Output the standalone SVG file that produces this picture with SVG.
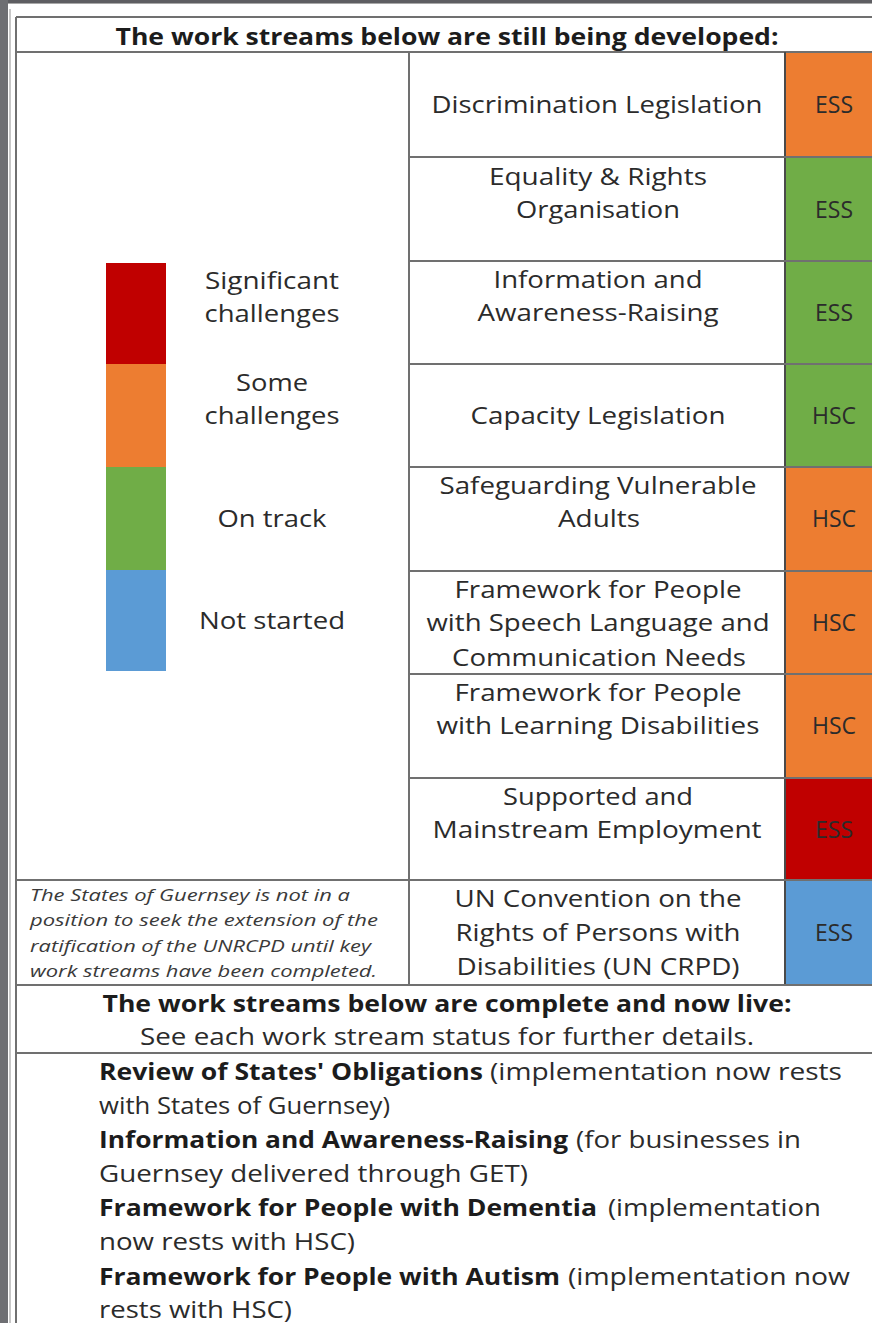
<svg xmlns="http://www.w3.org/2000/svg" width="872" height="1323" viewBox="0 0 872 1323">
<style>
  .t { font-family: "Open Sans", "Liberation Sans", sans-serif; font-size: 24px; fill: #2b2b2b; text-anchor: middle; }
  .hb { font-family: "Open Sans", "Liberation Sans", sans-serif; font-size: 24px; font-weight: bold; fill: #1c1c1c; text-anchor: middle; }
  .it { font-family: "Open Sans", "Liberation Sans", sans-serif; font-size: 16px; font-style: italic; fill: #3a3a3a; }
  .li { font-family: "Open Sans", "Liberation Sans", sans-serif; font-size: 24px; fill: #2b2b2b; }
  .lb { font-weight: bold; fill: #1c1c1c; }
  .grid { stroke: #707070; stroke-width: 2; fill: none; }
  .dark { stroke: #4a4a4a; stroke-width: 2; fill: none; }
  .st { font-family: "Open Sans", "Liberation Sans", sans-serif; font-size: 23px; fill: #2b2b2b; text-anchor: middle; }
</style>
<rect x="0" y="0" width="872" height="1323" fill="#ffffff"/>
<!-- page chrome -->
<rect x="0" y="0" width="872" height="3" fill="#5e5e62"/>
<rect x="0" y="3" width="872" height="1" fill="#a8a8a8"/>
<rect x="0" y="0" width="8" height="1323" fill="#6e6f73"/>
<rect x="9" y="9" width="2" height="1314" fill="#c8c8c8"/>

<!-- status colour cells -->
<g id="status-cells">
  <rect x="785" y="52" width="87" height="105" fill="#ED7D31"/>
  <rect x="785" y="157" width="87" height="104" fill="#70AD47"/>
  <rect x="785" y="261" width="87" height="103" fill="#70AD47"/>
  <rect x="785" y="364" width="87" height="103" fill="#70AD47"/>
  <rect x="785" y="467" width="87" height="104" fill="#ED7D31"/>
  <rect x="785" y="571" width="87" height="103" fill="#ED7D31"/>
  <rect x="785" y="674" width="87" height="104" fill="#ED7D31"/>
  <rect x="785" y="778" width="87" height="102" fill="#C00000"/>
  <rect x="785" y="880" width="87" height="105" fill="#5B9BD5"/>
</g>

<!-- grid -->
<g id="grid">
  <line class="grid" x1="16" y1="17" x2="16" y2="1323"/>
  <line class="grid" x1="16" y1="17" x2="872" y2="17"/>
  <line class="grid" x1="16" y1="52" x2="872" y2="52"/>
  <line class="grid" x1="409" y1="52" x2="409" y2="985"/>
  <line class="dark" x1="785" y1="52" x2="785" y2="985"/>
  <line class="grid" x1="409" y1="157" x2="872" y2="157"/>
  <line class="grid" x1="409" y1="261" x2="872" y2="261"/>
  <line class="grid" x1="409" y1="364" x2="872" y2="364"/>
  <line class="grid" x1="409" y1="467" x2="872" y2="467"/>
  <line class="grid" x1="409" y1="571" x2="872" y2="571"/>
  <line class="grid" x1="409" y1="674" x2="872" y2="674"/>
  <line class="grid" x1="409" y1="778" x2="872" y2="778"/>
  <line class="grid" x1="16" y1="880" x2="872" y2="880"/>
  <line class="grid" x1="16" y1="985" x2="872" y2="985"/>
  <line class="grid" x1="16" y1="1053" x2="872" y2="1053"/>
</g>

<g id="header-developing">
  <text class="hb" x="447" y="45" textLength="663" lengthAdjust="spacingAndGlyphs">The work streams below are still being developed:</text>
</g>

<g id="legend">
  <rect x="106" y="263" width="60" height="101" fill="#C00000"/>
  <rect x="106" y="364" width="60" height="103" fill="#ED7D31"/>
  <rect x="106" y="467" width="60" height="103" fill="#70AD47"/>
  <rect x="106" y="570" width="60" height="101" fill="#5B9BD5"/>
  <text class="t" x="272" y="289" textLength="134" lengthAdjust="spacingAndGlyphs">Significant</text>
  <text class="t" x="272" y="322" textLength="135" lengthAdjust="spacingAndGlyphs">challenges</text>
  <text class="t" x="272" y="391" textLength="72" lengthAdjust="spacingAndGlyphs">Some</text>
  <text class="t" x="272" y="424" textLength="135" lengthAdjust="spacingAndGlyphs">challenges</text>
  <text class="t" x="272" y="527" textLength="109" lengthAdjust="spacingAndGlyphs">On track</text>
  <text class="t" x="272" y="629" textLength="146" lengthAdjust="spacingAndGlyphs">Not started</text>
</g>

<g id="row-discrimination">
  <text class="t" x="597" y="113" textLength="331" lengthAdjust="spacingAndGlyphs">Discrimination Legislation</text>
  <text class="st" x="834" y="113">ESS</text>
</g>
<g id="row-equality">
  <text class="t" x="598" y="185" textLength="218" lengthAdjust="spacingAndGlyphs">Equality &amp; Rights</text>
  <text class="t" x="598" y="218" textLength="164" lengthAdjust="spacingAndGlyphs">Organisation</text>
  <text class="st" x="834" y="218">ESS</text>
</g>
<g id="row-information">
  <text class="t" x="598" y="288" textLength="209" lengthAdjust="spacingAndGlyphs">Information and</text>
  <text class="t" x="598" y="321" textLength="241" lengthAdjust="spacingAndGlyphs">Awareness-Raising</text>
  <text class="st" x="834" y="321">ESS</text>
</g>
<g id="row-capacity">
  <text class="t" x="598" y="424" textLength="255" lengthAdjust="spacingAndGlyphs">Capacity Legislation</text>
  <text class="st" x="834" y="424">HSC</text>
</g>
<g id="row-safeguarding">
  <text class="t" x="598" y="494" textLength="317" lengthAdjust="spacingAndGlyphs">Safeguarding Vulnerable</text>
  <text class="t" x="599" y="527" textLength="82" lengthAdjust="spacingAndGlyphs">Adults</text>
  <text class="st" x="834" y="527">HSC</text>
</g>
<g id="row-speech">
  <text class="t" x="598" y="598" textLength="287" lengthAdjust="spacingAndGlyphs">Framework for People</text>
  <text class="t" x="598" y="631" textLength="343" lengthAdjust="spacingAndGlyphs">with Speech Language and</text>
  <text class="t" x="599" y="666" textLength="294" lengthAdjust="spacingAndGlyphs">Communication Needs</text>
  <text class="st" x="834" y="631">HSC</text>
</g>
<g id="row-learning">
  <text class="t" x="598" y="701" textLength="287" lengthAdjust="spacingAndGlyphs">Framework for People</text>
  <text class="t" x="598" y="734" textLength="323" lengthAdjust="spacingAndGlyphs">with Learning Disabilities</text>
  <text class="st" x="834" y="734">HSC</text>
</g>
<g id="row-employment">
  <text class="t" x="598" y="805" textLength="190" lengthAdjust="spacingAndGlyphs">Supported and</text>
  <text class="t" x="597" y="838" textLength="329" lengthAdjust="spacingAndGlyphs">Mainstream Employment</text>
  <text class="st" x="834" y="838">ESS</text>
</g>
<g id="row-uncrpd">
  <text class="t" x="598" y="907" textLength="287" lengthAdjust="spacingAndGlyphs">UN Convention on the</text>
  <text class="t" x="598" y="941" textLength="285" lengthAdjust="spacingAndGlyphs">Rights of Persons with</text>
  <text class="t" x="598" y="975" textLength="283" lengthAdjust="spacingAndGlyphs">Disabilities (UN CRPD)</text>
  <text class="st" x="834" y="941">ESS</text>
</g>

<g id="note">
  <text class="it" x="30" y="901" textLength="320" lengthAdjust="spacingAndGlyphs">The States of Guernsey is not in a</text>
  <text class="it" x="30" y="926" textLength="348" lengthAdjust="spacingAndGlyphs">position to seek the extension of the</text>
  <text class="it" x="30" y="952" textLength="341" lengthAdjust="spacingAndGlyphs">ratification of the UNRCPD until key</text>
  <text class="it" x="30" y="977" textLength="347" lengthAdjust="spacingAndGlyphs">work streams have been completed.</text>
</g>

<g id="header-complete">
  <text class="hb" x="447" y="1012" textLength="689" lengthAdjust="spacingAndGlyphs">The work streams below are complete and now live:</text>
  <text class="t" x="447" y="1045" textLength="614" lengthAdjust="spacingAndGlyphs">See each work stream status for further details.</text>
</g>

<g id="complete-list">
  <text class="li" y="1080"><tspan class="lb" x="99" textLength="384" lengthAdjust="spacingAndGlyphs">Review of States' Obligations</tspan><tspan x="490" textLength="352" lengthAdjust="spacingAndGlyphs">(implementation now rests</tspan></text>
  <text class="li" x="99" y="1114" textLength="291" lengthAdjust="spacingAndGlyphs">with States of Guernsey)</text>
  <text class="li" y="1148"><tspan class="lb" x="99" textLength="469" lengthAdjust="spacingAndGlyphs">Information and Awareness-Raising</tspan><tspan x="576" textLength="225" lengthAdjust="spacingAndGlyphs">(for businesses in</tspan></text>
  <text class="li" x="99" y="1182" textLength="429" lengthAdjust="spacingAndGlyphs">Guernsey delivered through GET)</text>
  <text class="li" y="1216"><tspan class="lb" x="99" textLength="498" lengthAdjust="spacingAndGlyphs">Framework for People with Dementia</tspan><tspan x="608" textLength="213" lengthAdjust="spacingAndGlyphs">(implementation</tspan></text>
  <text class="li" x="99" y="1250" textLength="256" lengthAdjust="spacingAndGlyphs">now rests with HSC)</text>
  <text class="li" y="1285"><tspan class="lb" x="99" textLength="461" lengthAdjust="spacingAndGlyphs">Framework for People with Autism</tspan><tspan x="568" textLength="282" lengthAdjust="spacingAndGlyphs">(implementation now</tspan></text>
  <text class="li" x="99" y="1318" textLength="193" lengthAdjust="spacingAndGlyphs">rests with HSC)</text>
</g>
</svg>
